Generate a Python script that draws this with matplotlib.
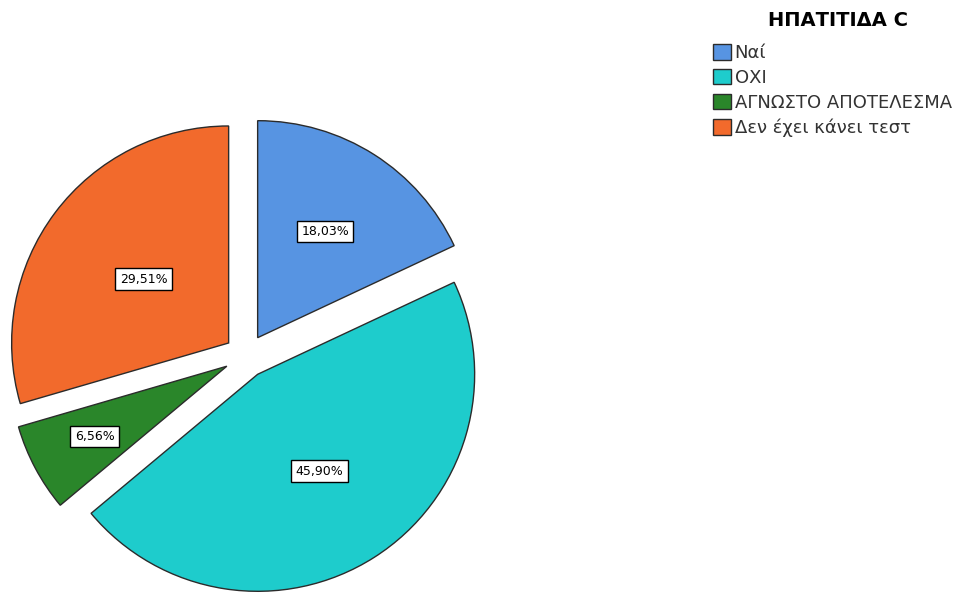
import matplotlib
matplotlib.use("Agg")
import matplotlib.pyplot as plt
from matplotlib.patches import Patch
import numpy as np

plt.rcParams['font.family'] = ['DejaVu Sans']

labels = ["Ναί", "ΟΧΙ", "ΑΓΝΩΣΤΟ ΑΠΟΤΕΛΕΣΜΑ", "Δεν έχει κάνει τεστ"]
values = [18.03, 45.90, 6.56, 29.51]
pct_labels = ["18,03%", "45,90%", "6,56%", "29,51%"]
colors = ["#5794e2", "#1ecccc", "#2a862a", "#f26a2c"]
legend_title = "ΗΠΑΤΙΤΙΔΑ C"

W, H = 977, 594
fig = plt.figure(figsize=(W / 100, H / 100), dpi=100)

# pie centre and radius in pixels
cx, cy, R = 246, 594 - 356, 217
lim = 1.3
half = lim * R
ax = fig.add_axes([(cx - half) / W, (cy - half) / H, 2 * half / W, 2 * half / H])

wedges, _ = ax.pie(values, colors=colors, startangle=90, counterclock=False,
                   explode=[0.1] * 4, radius=1,
                   wedgeprops=dict(edgecolor="#2b2b2b", linewidth=1))
ax.set_xlim(-lim, lim)
ax.set_ylim(-lim, lim)
ax.axis("off")

# label distance from each slice's tip, as fraction of radius
label_r = [0.58, 0.53, 0.69, 0.49]
for w, txt, r in zip(wedges, pct_labels, label_r):
    ang = np.deg2rad((w.theta1 + w.theta2) / 2)
    x0, y0 = w.center
    ax.text(x0 + r * np.cos(ang), y0 + r * np.sin(ang), txt,
            ha="center", va="center", fontsize=9,
            bbox=dict(boxstyle="square,pad=0.35", facecolor="white",
                      edgecolor="black", linewidth=1))

fig.text(838 / W, 1 - 20 / H, legend_title, ha="center", va="center",
         fontsize=14, fontweight="bold")

handles = [Patch(facecolor=c, edgecolor="#2b2b2b", linewidth=1) for c in colors]
leg = fig.legend(handles, labels, loc="upper left",
                 bbox_to_anchor=(713 / W, 1 - 44 / H),
                 frameon=False, fontsize=13,
                 handlelength=1.0, handleheight=0.95, handletextpad=0.2,
                 labelspacing=0.38, borderpad=0, borderaxespad=0)
for t in leg.get_texts():
    t.set_color("#333333")

fig.savefig("out.png", dpi=100)
